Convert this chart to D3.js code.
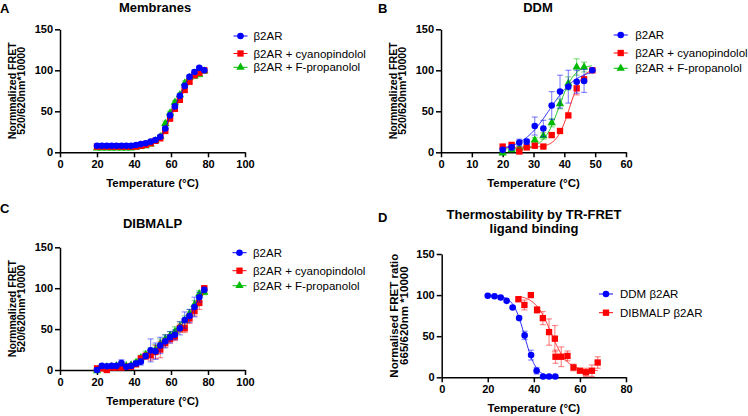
<!DOCTYPE html>
<html><head><meta charset="utf-8">
<script src="https://cdn.jsdelivr.net/npm/d3@7"></script>
<style>
body{margin:0;background:#fff}
svg{display:block}
text{font-family:"Liberation Sans",Arial,Helvetica,sans-serif;fill:#000}
</style>
</head><body>
<svg id="c" width="748" height="416"></svg>
<script>
// ---------- DATA ----------
// Panel A – Membranes
const tempA = [20,22.6,25.3,27.9,30.5,33.2,35.8,38.4,41.1,43.7,46.3,49.0,51.6,54.2,56.9,59.5,62.1,64.8,67.4,70.0,72.7,75.3,78.0];
const blueA  = [8,8,8,8,8,8,8,8,9,10,11,13,15,19,29,45,56,69,81,92,98,103,100];
const blueAerr = [1,1,1,1,1,1,1,1,1,1,1,1,1,1,2,2,2,2,2,2,2,1,0];
const redA   = [7,7,7,7,7,7,7,7,7,8,9,11,14,17,26,41,53,64,76,86,94,97,100];
const redAerr = [1,1,1,1,1,1,1,1,1,1,1,1,1,2,2,2,2,2,2,2,2,2,0];
const greenA = [5,5,5,5,5,5,5,5,6,7,8,10,14,19,35,48,61,70,84,91,93,95,99];
const greenAerr = [1,1,1,1,1,1,1,1,1,1,2,2,2,2,3,2,2,2,3,2,3,3,1];

// Panel B – DDM
const tempB = [20,22.9,25.4,27.8,30.4,33.2,35.9,38.6,41.3,44.0,46.4,49.1];
const blueB  = [3,6,12,13,32,29,57,74,80,86,87,100];
const blueBerr = [2,3,4,3,11,10,17,20,20,14,14,0];
const redB   = [7,9,1,6,8,7,21,26,45,78,89,100];
const redBerr = [2,2,1,2,2,1,2,2,2,8,3,0];
const tempBgreen = [20,22.9,25.4,27.8,30.4,33.2,35.9,38.6,41.3,44.0,46.4];
const greenB = [-1,3,5,8,15,20,36,59,84,104,104];
const greenBerr = [1,1,2,2,3,4,5,6,8,10,6];
// Boltzmann fit parameters: [bottom, top, Tm, slope]
const fitBlueB  = [2, 102, 35.2, 4.5];
const fitRedB   = [6, 103, 41.7, 2.1];
const fitGreenB = [4, 107, 38.3, 2.5];

// Panel C – DIBMALP
const tempC = [20,22.6,25.3,27.9,30.5,33.2,35.8,38.4,41.1,43.7,46.3,49.0,51.6,54.2,56.9,59.5,62.1,64.8,67.4,70.0,72.7,75.3,78.0];
const blueC  = [0,5,4.5,5,5,8.5,4,5,8,10,17,24,23,30,35,40,43,51,61,66,77,89,98];
const blueCerr = [2,1,1,1,1,4,2,2,3,4,3,14,10,10,8,7,6,8,10,8,12,6,3];
const redC   = [2,2,0,3,3,3,4,4,7,14,17,18,22,25,33,38,41,51,51,63,72,82,100];
const redCerr = [1,1,1,1,1,1,1,2,2,3,4,6,8,10,5,5,5,5,5,6,6,8,2];
const greenC = [-1,3,4,4,5,6,5,6,9,15,19,22,25,32,38,42,47,53,60,69,80,93,95];
const greenCerr = [1,1,1,1,1,2,2,2,3,3,4,5,6,6,5,5,6,6,6,5,5,4,3];

// Panel D – TR-FRET ligand binding
const tempDddm = [20,22.9,25.6,28.2,30.8,33.6,36,38.8,41.2,44,46.6,49.3];
const ddmD = [99.3,98.5,97,93,85,72,51,27,8,1,1,1];
const ddmDerr = [1,1,1,1,1,2,5,6,4,1,1,1];
const tempDdib = [33.3,35.9,38.7,41.4,43.9,46.6,49.1,49.4,51.9,54.6,57.2,60,62.6,65.2,67.7];
const dibD = [95,88,100,82,72,55,47,25,25,26,12,8,6,8,18];
const dibDerr = [2,6,1,4,8,16,16,8,12,6,4,2,5,7,7];
// decreasing Boltzmann fits: [bottom, top, Tm, slope]
const fitDdm = [0, 100, 36.0, 2.5];
const fitDib = [8, 100, 47.5, 3.5];

const yTicks = [0,50,100,150];
const xTicksA = [0,20,40,60,80,100];
const xTicksB = [0,10,20,30,40,50,60];
const xTicksD = [0,20,40,60,80];

const legendA = ["β2AR","β2AR + cyanopindolol","β2AR  + F-propanolol"];
const legendB = ["β2AR","β2AR + cyanopindolol","β2AR + F-propanolol"];
const legendD = ["DDM β2AR","DIBMALP β2AR"];

// ---------- DRAW ----------
const BLUE="#0000ff", RED="#ff0000", GREEN="#00bb00";
const svg = d3.select("#c");

function sym(shape){
  if(shape==="circle") return d3.symbol().type(d3.symbolCircle).size(34)();
  if(shape==="square") return d3.symbol().type(d3.symbolSquare).size(40)();
  return d3.symbol().type(d3.symbolTriangle).size(30)();
}
function boltz(p, inc){
  return t => p[0] + (p[1]-p[0])/(1+Math.exp(inc ? (p[2]-t)/p[3] : (t-p[2])/p[3]));
}

function panel(o){
  const g = svg.append("g");
  const x = d3.scaleLinear().domain([0,o.xmax]).range([o.left,o.right]);
  const y = d3.scaleLinear().domain([0,150]).range([o.bottom,o.top]);
  const xa = g.append("g").attr("transform",`translate(0,${o.bottom})`)
    .call(d3.axisBottom(x).tickValues(o.xticks).tickSize(5).tickPadding(3).tickSizeOuter(0));
  const ya = g.append("g").attr("transform",`translate(${o.left},0)`)
    .call(d3.axisLeft(y).tickValues(yTicks).tickSize(5).tickPadding(2).tickSizeOuter(0));
  [xa,ya].forEach(a=>{
    a.selectAll("path,line").attr("stroke","#000").attr("stroke-width",1.5);
    a.selectAll("text").attr("font-size",11).attr("font-weight","bold")
      .attr("font-family",'"Liberation Sans",Arial,sans-serif');
  });
  g.append("text").attr("x",(o.left+o.right)/2).attr("y",o.bottom+35)
    .attr("text-anchor","middle").attr("font-size",11.5).attr("font-weight","bold")
    .text("Temperature (°C)");
  const yc = (o.top+o.bottom)/2;
  o.ylab.forEach((s,i)=>{
    g.append("text").attr("transform",`translate(${o.left-44+i*o.ylabGap},${yc}) rotate(-90)`)
      .attr("text-anchor","middle").attr("font-size",o.ylabSize).attr("font-weight","bold").text(s);
  });
  o.title.forEach((s,i)=>{
    g.append("text").attr("x",o.tx).attr("y",o.ty+i*14).attr("text-anchor","middle")
      .attr("font-size",13).attr("font-weight","bold").text(s);
  });
  g.append("text").attr("x",o.lx).attr("y",o.ly).attr("font-size",13).attr("font-weight","bold").text(o.letter);

  o.series.forEach(s=>{
    const pts = s.t.map((t,i)=>({t, v:s.v[i], e:s.e[i]}));
    const sg = g.append("g");
    if(s.fit){
      const f = boltz(s.fit, s.inc);
      const ts = d3.range(s.fitRange[0], s.fitRange[1]+0.001, 0.2);
      sg.append("path").attr("d", d3.line().x(t=>x(t)).y(t=>y(f(t))).curve(d3.curveMonotoneX)(ts))
        .attr("fill","none").attr("stroke",s.color).attr("stroke-width",1).attr("stroke-opacity",0.85);
    } else {
      sg.append("path").attr("d", d3.line().x(d=>x(d.t)).y(d=>y(d.v)).curve(d3.curveMonotoneX)(pts))
        .attr("fill","none").attr("stroke",s.color).attr("stroke-width",1).attr("stroke-opacity",0.85);
    }
    const eb = sg.append("g").attr("stroke",s.color).attr("stroke-opacity",0.45).attr("stroke-width",1.2);
    pts.filter(d=>d.e>0).forEach(d=>{
      eb.append("line").attr("x1",x(d.t)).attr("x2",x(d.t)).attr("y1",y(d.v-d.e)).attr("y2",y(d.v+d.e));
      [d.v-d.e,d.v+d.e].forEach(vv=>eb.append("line").attr("x1",x(d.t)-3).attr("x2",x(d.t)+3).attr("y1",y(vv)).attr("y2",y(vv)));
    });
    sg.selectAll("path.m").data(pts).join("path").attr("class","m")
      .attr("d",sym(s.shape)).attr("transform",d=>`translate(${x(d.t)},${y(d.v)})`).attr("fill",s.color);
  });

  o.legend.forEach((l,i)=>{
    const ly = o.legY[i];
    g.append("line").attr("x1",o.legX-7).attr("x2",o.legX+7).attr("y1",ly).attr("y2",ly)
      .attr("stroke",l.color).attr("stroke-width",1);
    g.append("path").attr("d",sym(l.shape)).attr("transform",`translate(${o.legX},${ly})`).attr("fill",l.color);
    g.append("text").attr("x",o.legX+o.legTx).attr("y",ly).attr("dy","0.36em")
      .attr("font-size",11.5).text(l.text);
  });
}

panel({
  left:60,right:245,top:29.3,bottom:152.3,xmax:100,xticks:xTicksA,
  ylab:["Normmalized FRET","520/620nm*10000"], ylabSize:10.6, ylabGap:9, title:["Membranes"], tx:155, ty:12,
  letter:"A", lx:0, ly:13,
  series:[
    {t:tempA,v:greenA,e:greenAerr,color:GREEN,shape:"triangle"},
    {t:tempA,v:redA,e:redAerr,color:RED,shape:"square"},
    {t:tempA,v:blueA,e:blueAerr,color:BLUE,shape:"circle"}
  ],
  legend:[{text:legendA[0],color:BLUE,shape:"circle"},{text:legendA[1],color:RED,shape:"square"},{text:legendA[2],color:GREEN,shape:"triangle"}],
  legX:240.5, legTx:13, legY:[36,53.5,67.3]
});

panel({
  left:441,right:626,top:29.3,bottom:152.3,xmax:60,xticks:xTicksB,
  ylab:["Normmalized FRET","520/620nm*10000"], ylabSize:10.6, ylabGap:9, title:["DDM"], tx:538, ty:12,
  letter:"B", lx:378, ly:13,
  series:[
    {t:tempBgreen,v:greenB,e:greenBerr,color:GREEN,shape:"triangle",fit:fitGreenB,inc:true,fitRange:[20,49.1]},
    {t:tempB,v:redB,e:redBerr,color:RED,shape:"square",fit:fitRedB,inc:true,fitRange:[20,49.1]},
    {t:tempB,v:blueB,e:blueBerr,color:BLUE,shape:"circle",fit:fitBlueB,inc:true,fitRange:[20,49.1]}
  ],
  legend:[{text:legendB[0],color:BLUE,shape:"circle"},{text:legendB[1],color:RED,shape:"square"},{text:legendB[2],color:GREEN,shape:"triangle"}],
  legX:620.7, legTx:14.5, legY:[35,53,68.3]
});

panel({
  left:60,right:245,top:247.3,bottom:370,xmax:100,xticks:xTicksA,
  ylab:["Normmalized FRET","520/620nm*10000"], ylabSize:10.6, ylabGap:9, title:["DIBMALP"], tx:152.5, ty:228,
  letter:"C", lx:0, ly:213,
  series:[
    {t:tempC,v:greenC,e:greenCerr,color:GREEN,shape:"triangle"},
    {t:tempC,v:redC,e:redCerr,color:RED,shape:"square"},
    {t:tempC,v:blueC,e:blueCerr,color:BLUE,shape:"circle"}
  ],
  legend:[{text:legendB[0],color:BLUE,shape:"circle"},{text:legendB[1],color:RED,shape:"square"},{text:legendB[2],color:GREEN,shape:"triangle"}],
  legX:239.5, legTx:13.5, legY:[252.7,270.7,285.7]
});

panel({
  left:441.7,right:626,top:254,bottom:377.3,xmax:80,xticks:xTicksD,
  ylab:["Normalised FRET ratio","665/620nm *10000"], ylabSize:11.5, ylabGap:10, title:["Thermostability by TR-FRET","ligand binding"], tx:534, ty:219,
  letter:"D", lx:378, ly:222,
  series:[
    {t:tempDdib,v:dibD,e:dibDerr,color:RED,shape:"square",fit:fitDib,inc:false,fitRange:[33.3,67.7]},
    {t:tempDddm,v:ddmD,e:ddmDerr,color:BLUE,shape:"circle",fit:fitDdm,inc:false,fitRange:[20,49.3]}
  ],
  legend:[{text:legendD[0],color:BLUE,shape:"circle"},{text:legendD[1],color:RED,shape:"square"}],
  legX:606, legTx:14, legY:[294,312.7]
});
</script>
</body></html>
